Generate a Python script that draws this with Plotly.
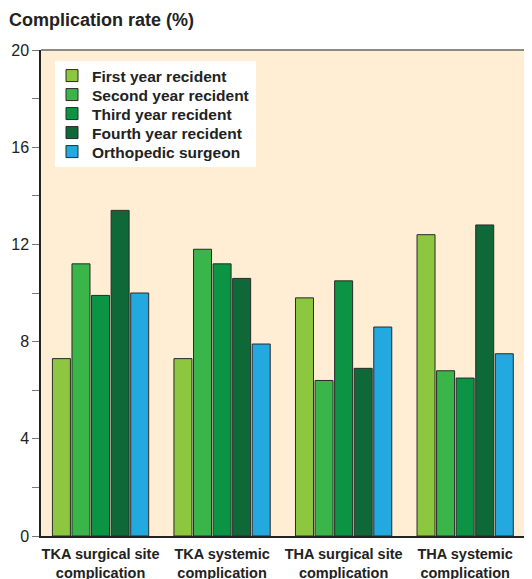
import plotly.graph_objects as go

categories = ["TKA surgical site<br>complication", "TKA systemic<br>complication",
              "THA surgical site<br>complication", "THA systemic<br>complication"]
series_names = ["First year recident", "Second year recident", "Third year recident",
                "Fourth year recident", "Orthopedic surgeon"]
first_year = [7.3, 7.3, 9.8, 12.4]
second_year = [11.2, 11.8, 6.4, 6.8]
third_year = [9.9, 11.2, 10.5, 6.5]
fourth_year = [13.4, 10.6, 6.9, 12.8]
surgeon = [10.0, 7.9, 8.6, 7.5]
series_values = [first_year, second_year, third_year, fourth_year, surgeon]
colors = ["#8DC63F", "#3AB54A", "#0B9444", "#0E6838", "#23A8E0"]
y_ticks = [0, 4, 8, 12, 16, 20]

FONT = "Liberation Sans, Arial, sans-serif"

# page has an 8px body margin; figure is sized so the visible page is 532x579
W, H = 524, 571
ML, MT, MB = 33, 42, 43
PW, PH = W - ML, H - MT - MB

legend_names = ["legend", "legend2", "legend3", "legend4", "legend5"]

fig = go.Figure()
for name, vals, col, lg in zip(series_names, series_values, colors, legend_names):
    fig.add_trace(go.Bar(
        x=list(range(len(categories))), y=vals, name=name, legend=lg,
        marker=dict(color=col, line=dict(color="#2a2a2a", width=1)),
    ))

legend_style = dict(xanchor="left", yanchor="top", bgcolor="rgba(0,0,0,0)",
                    borderwidth=0,
                    font=dict(family=FONT, size=15.5, color="#222", weight="bold"))
legend_layout = {}
for i, lg in enumerate(legend_names):
    top_px = 9 + 19 * i  # from top of plot area
    legend_layout[lg] = dict(x=11 / PW, y=1 - top_px / PH, **legend_style)

fig.update_layout(
    width=W, height=H,
    margin=dict(l=ML, r=0, t=MT, b=MB, autoexpand=False),
    paper_bgcolor="white",
    plot_bgcolor="#FFEED3",
    barmode="group",
    bargap=0.195,
    bargroupgap=0.08,
    font=dict(family=FONT, color="#222", size=14),
    title=dict(text="Complication rate (%)", xref="container", yref="container",
               x=1/W, y=1-12/H, xanchor="left", yanchor="middle", automargin=False,
               font=dict(family=FONT, size=18, color="#222", weight="bold")),
    showlegend=True,
    xaxis=dict(
        range=[-0.49, 3.55], tickmode="array", automargin=False,
        tickvals=list(range(len(categories))), ticktext=categories,
        showline=True, linecolor="#222", linewidth=1.5,
        ticks="", showgrid=False, zeroline=False, ticklabelstandoff=4,
        tickfont=dict(family=FONT, size=14.5, color="#222", weight="bold"),
    ),
    yaxis=dict(
        range=[0, 20], tickmode="array", tickvals=y_ticks, automargin=False,
        ticktext=[str(v) for v in y_ticks],
        showline=True, linecolor="#222", linewidth=1.5,
        ticks="outside", ticklen=7, tickcolor="#777", tickwidth=1.2,
        minor=dict(tickmode="array", tickvals=[2, 6, 10, 14, 18],
                   ticks="outside", ticklen=7, tickcolor="#777", tickwidth=1.2,
                   showgrid=False),
        showgrid=False, zeroline=False,
        tickfont=dict(family=FONT, size=16, color="#222"),
    ),
    shapes=[
        dict(type="line", xref="paper", yref="paper", x0=0, x1=1, y0=1, y1=1,
             line=dict(color="#666", width=1.5)),
        dict(type="rect", xref="paper", yref="paper", layer="below",
             x0=14 / PW, x1=215 / PW, y0=1 - 117 / PH, y1=1 - 11 / PH,
             fillcolor="white", line=dict(width=0)),
    ],
    **legend_layout,
)

fig.write_html("out.html")
